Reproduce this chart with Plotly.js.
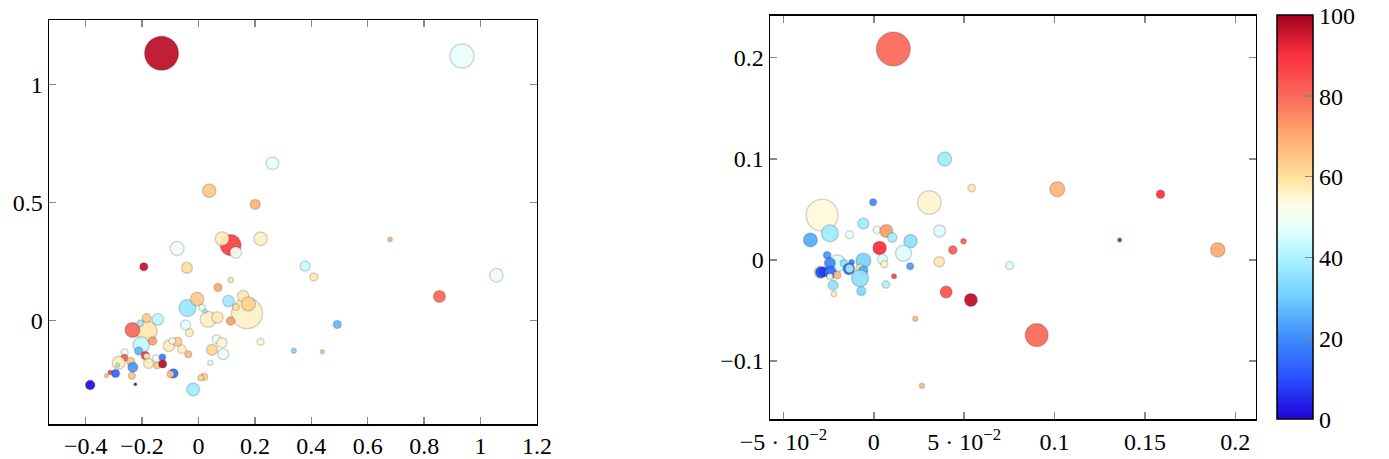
<!DOCTYPE html>
<html>
<head>
<meta charset="utf-8">
<script src="https://cdn.plot.ly/plotly-3.0.1.min.js"></script>
<style>
  body { margin: 0; background: #fff; }
  #myDiv { width: 1389px; height: 459px; }
</style>
</head>
<body>
<div id="myDiv"></div>
<script>
// left panel
var leftX = [-0.131, 0.934, 0.262, 0.038, 0.201, 0.114, 0.084, 0.132, 0.220, -0.076,
  -0.194, -0.041, 0.679, 0.378, 0.409, 1.056, 0.854, 0.114, 0.069, 0.172,
  -0.039, -0.005, 0.106, 0.158, 0.177, 0.133, 0.034, 0.067, 0.013, 0.023,
  0.114, -0.046, -0.032, 0.492, 0.338, 0.439, 0.220, 0.064, 0.083, 0.048,
  0.088, 0.042, 0.020, 0.009, -0.019, -0.105, -0.075, -0.093, -0.059, -0.036,
  -0.184, -0.234, -0.184, -0.144, -0.206, -0.203, -0.163, -0.212, -0.189, -0.184,
  -0.262, -0.263, -0.283, -0.240, -0.233, -0.236, -0.177, -0.147, -0.151, -0.128,
  -0.127, -0.089, -0.099, -0.294, -0.287, -0.313, -0.327, -0.384, -0.224];
var leftY = [1.131, 1.120, 0.666, 0.550, 0.492, 0.320, 0.347, 0.289, 0.347, 0.305,
  0.228, 0.224, 0.344, 0.231, 0.185, 0.192, 0.102, 0.172, 0.140, 0.031,
  0.054, 0.092, 0.083, 0.104, 0.071, 0.058, 0.006, 0.014, 0.055, 0.040,
  -0.001, -0.018, -0.051, -0.016, -0.127, -0.131, -0.089, -0.078, -0.093, -0.123,
  -0.142, -0.178, -0.237, -0.241, -0.291, -0.106, -0.089, -0.085, -0.121, -0.142,
  -0.044, -0.039, 0.011, 0.006, -0.011, -0.103, -0.086, -0.128, -0.147, -0.150,
  -0.134, -0.157, -0.178, -0.173, -0.197, -0.233, -0.181, -0.190, -0.159, -0.155,
  -0.183, -0.223, -0.226, -0.223, -0.189, -0.219, -0.233, -0.272, -0.269];
var leftSize = [34, 24, 12.5, 13.5, 10, 21, 14, 11.5, 13.5, 14,
  8, 11, 4.5, 10, 8, 13.5, 12, 5.5, 8, 31,
  17, 13.5, 11.5, 11.5, 14, 6.5, 16, 11.5, 6.5, 4,
  8.5, 10, 8, 8, 5, 4, 7, 8.5, 10, 11,
  11, 5, 7, 6, 13, 11.5, 9, 6.5, 8.5, 7,
  21, 15, 9, 11.5, 6.5, 16.5, 8.5, 8, 8, 6,
  7, 7, 13, 8, 10, 7, 10, 6.5, 7, 6.5,
  8, 9.5, 7, 8, 4, 4.5, 4, 9.5, 3];
var leftColor = [97, 48, 48, 64, 68, 87, 57, 50, 56, 50,
  96, 60, 68, 44, 58, 50, 80, 58, 70, 56,
  37, 64, 38, 58, 62, 60, 56, 58, 48, 38,
  72, 47, 57, 27, 33, 65, 55, 50, 55, 62,
  48, 48, 63, 63, 38, 57, 64, 50, 57, 67,
  58, 80, 64, 42, 38, 43, 72, 27, 88, 57,
  48, 82, 57, 64, 22, 65, 57, 64, 50, 18,
  97, 15, 66, 14, 38, 88, 65, 2, 5];

// right panel
var rightX = [0.0108, 0.0392, 0.0541, 0.1015, 0.1586, 0.136, 0.1903, 0.0307, -0.0286, -0.0004,
  -0.0243, -0.0351, -0.0134, -0.0058, 0.0017, 0.0069, 0.0102, 0.0203, 0.0364, 0.0164,
  0.0496, 0.0437, 0.0032, 0.0048, 0.0058, 0.0201, 0.0362, 0.0751, 0.0112, 0.0400,
  0.0537, 0.0901, 0.0229, 0.0266, 0.0067, -0.0203, -0.0258, -0.0243, -0.0123, -0.0165,
  -0.0138, -0.0134, -0.0058, -0.0076, -0.0058, -0.0076, -0.0069, -0.0225, -0.0221, -0.0296,
  -0.0292, -0.0277, -0.0240, -0.0203, -0.0243];
var rightY = [0.2086, 0.0997, 0.071, 0.070, 0.065, 0.0198, 0.0099, 0.0568, 0.0442, 0.0571,
  0.0264, 0.0198, 0.0248, 0.036, 0.0297, 0.0287, 0.0221, 0.0185, 0.0287, 0.0066,
  0.0185, 0.0099, 0.0119, 0.0007, -0.0043, -0.0063, -0.0017, -0.0056, -0.0162, -0.0317,
  -0.0396, -0.0743, -0.0581, -0.1244, -0.0244, -0.0033, 0.0046, -0.0033, -0.0023, -0.0033,
  -0.0089, -0.0086, -0.0007, -0.0083, -0.0106, -0.0182, -0.0307, -0.0251, -0.0337, -0.0122,
  -0.0122, -0.0116, -0.0122, -0.0149, -0.0165];
var rightSize = [34, 14, 7.5, 15, 8.5, 4, 14.5, 23.5, 32, 7,
  17, 14, 8, 11, 7.5, 13, 9.5, 13.5, 12, 16,
  5.5, 8.5, 13.5, 10, 7, 7, 10.5, 8, 5, 12,
  13, 23, 5, 5, 7.5, 17, 7.5, 11, 5.5, 7.5,
  11.5, 8.5, 15, 8, 9.5, 17, 9, 10, 5.5, 12,
  11, 9, 12, 7.5, 6];
var rightColor = [80, 38, 58, 68, 90, 97, 70, 55, 54, 20,
  38, 25, 48, 38, 48, 72, 38, 35, 46, 46,
  82, 82, 90, 46, 55, 23, 58, 46, 86, 84,
  97, 80, 66, 66, 40, 45, 22, 20, 18, 35,
  15, 38, 32, 58, 25, 35, 33, 36, 57, 46,
  10, 8, 15, 67, 48];

var scale = [
  [0.0, 'rgb(34,0,214)'],
  [0.1, 'rgb(40,80,255)'],
  [0.2, 'rgb(62,140,250)'],
  [0.3, 'rgb(110,205,255)'],
  [0.4, 'rgb(172,244,255)'],
  [0.47, 'rgb(228,255,255)'],
  [0.53, 'rgb(255,253,230)'],
  [0.6, 'rgb(255,225,155)'],
  [0.7, 'rgb(255,170,112)'],
  [0.8, 'rgb(250,105,90)'],
  [0.9, 'rgb(252,48,62)'],
  [1.0, 'rgb(162,0,32)']
];

var fnt = {family: 'Liberation Serif', size: 24, color: '#000'};

var trace1 = {
  x: leftX, y: leftY, xaxis: 'x', yaxis: 'y',
  mode: 'markers', type: 'scatter', hoverinfo: 'none',
  marker: {
    size: leftSize, color: leftColor, colorscale: scale, cmin: 0, cmax: 100,
    opacity: 0.93, showscale: false,
    line: {color: 'rgba(0,0,0,0.17)', width: 1.5}
  }
};
var trace2 = {
  x: rightX, y: rightY, xaxis: 'x2', yaxis: 'y2',
  mode: 'markers', type: 'scatter', hoverinfo: 'none',
  marker: {
    size: rightSize, color: rightColor, colorscale: scale, cmin: 0, cmax: 100,
    opacity: 0.93, showscale: true,
    line: {color: 'rgba(0,0,0,0.17)', width: 1.5},
    colorbar: {
      x: 0.9194, xanchor: 'left', y: 0.0865, yanchor: 'bottom',
      len: 0.8793, lenmode: 'fraction', thickness: 36, thicknessmode: 'pixels',
      xpad: 0, ypad: 0, outlinewidth: 1.5, outlinecolor: '#000',
      tickvals: [0, 20, 40, 60, 80, 100], ticks: 'inside', ticklen: 8,
      tickcolor: '#888', tickwidth: 1.2, tickfont: fnt
    }
  }
};

function axis(extra) {
  var a = {
    showline: true, linecolor: '#000', linewidth: 1.5, mirror: 'ticks',
    ticks: 'inside', ticklen: 7, tickwidth: 1.5, tickcolor: '#888',
    showgrid: false, zeroline: false, tickfont: fnt, fixedrange: true
  };
  for (var k in extra) a[k] = extra[k];
  return a;
}

var layout = {
  width: 1389, height: 459,
  margin: {l: 0, r: 0, t: 0, b: 0},
  paper_bgcolor: '#fff', plot_bgcolor: '#fff',
  showlegend: false,
  xaxis: axis({domain: [0.03528, 0.3866], range: [-0.53, 1.2],
    tickvals: [-0.4, -0.2, 0, 0.2, 0.4, 0.6, 0.8, 1, 1.2], anchor: 'y'}),
  yaxis: axis({domain: [0.07625, 0.9564], range: [-0.437, 1.272],
    tickvals: [0, 0.5, 1], anchor: 'x'}),
  xaxis2: axis({domain: [0.5544, 0.9042], range: [-0.0574, 0.2114],
    tickvals: [-0.05, 0, 0.05, 0.1, 0.15, 0.2],
    ticktext: ['\u22125 \u00b7 10<sup>\u22122</sup>', '0', '5 \u00b7 10<sup>\u22122</sup>', '0.1', '0.15', '0.2'],
    anchor: 'y2'}),
  yaxis2: axis({domain: [0.0865, 0.9658], range: [-0.1576, 0.2415],
    tickvals: [-0.1, 0, 0.1, 0.2], ticktext: ['\u22120.1', '0', '0.1', '0.2'],
    anchor: 'x2'})
};

Plotly.newPlot('myDiv', [trace1, trace2], layout, {displayModeBar: false, staticPlot: true});
</script>
</body>
</html>
